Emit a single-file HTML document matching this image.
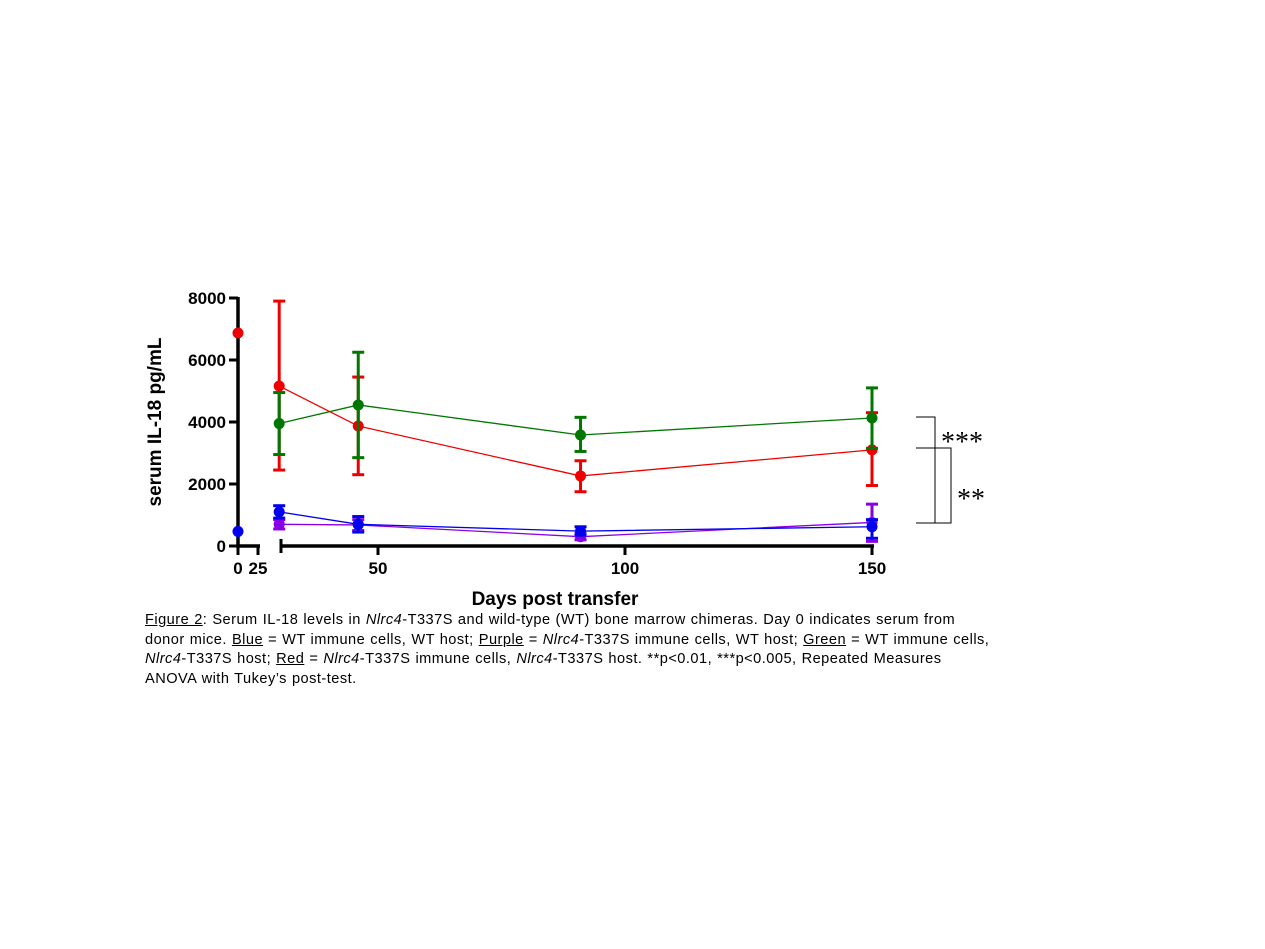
<!DOCTYPE html>
<html><head><meta charset="utf-8"><style>
body{margin:0;background:#fff;width:1265px;height:949px;overflow:hidden;font-family:"Liberation Sans",sans-serif}
#cap{position:absolute;left:145px;top:611px;width:1000px;font-size:14.6px;letter-spacing:0.47px;word-spacing:0.5px;line-height:19.5px;color:#000;white-space:nowrap}
u{text-decoration:underline}
</style></head><body>
<svg id="chart" width="1265" height="610" style="position:absolute;left:0;top:0" font-family="Liberation Sans, sans-serif"></svg>
<div id="cap"><u>Figure 2</u>: Serum IL-18 levels in <i>Nlrc4</i>-T337S and wild-type (WT) bone marrow chimeras. Day 0 indicates serum from<br>donor mice. <u>Blue</u> = WT immune cells, WT host; <u>Purple</u> = <i>Nlrc4</i>-T337S immune cells, WT host; <u>Green</u> = WT immune cells,<br><i>Nlrc4</i>-T337S host; <u>Red</u> = <i>Nlrc4</i>-T337S immune cells, <i>Nlrc4</i>-T337S host. **p&lt;0.01, ***p&lt;0.005, Repeated Measures<br>ANOVA with Tukey’s post-test.</div>
<script>
const days=[30,46,91,150];
const yTicks=[0,2000,4000,6000,8000];
const xTicksRight=[50,100,150];
const day0Red=6870, day0Blue=470;
const redMean=[5160,3870,2260,3100], redHi=[7900,5450,2750,4300], redLo=[2450,2300,1750,1950];
const greenMean=[3950,4550,3580,4130], greenHi=[4950,6250,4150,5100], greenLo=[2950,2850,3050,3150];
const blueMean=[1100,700,480,620], blueHi=[1300,950,620,850], blueLo=[900,450,350,250];
const purpleMean=[700,680,300,760], purpleHi=[850,850,400,1350], purpleLo=[550,500,200,150];
const svg=document.getElementById('chart');const NS='http://www.w3.org/2000/svg';
function y(v){return 546-v/8000*248;}
function x(d){return d<=25?238+d*0.8:378+(d-50)*4.94;}
function mk(t,a,p){const e=document.createElementNS(NS,t);for(const k in a)e.setAttribute(k,a[k]);(p||svg).appendChild(e);return e;}
let e=mk('line',{x1:238,y1:297,x2:238,y2:548,stroke:'#000','stroke-width':3.5});
e=mk('line',{x1:237,y1:546,x2:260,y2:546,stroke:'#000','stroke-width':3.5});
mk('line',{x1:258,y1:546,x2:258,y2:555,stroke:'#000','stroke-width':3});
mk('line',{x1:238,y1:546,x2:238,y2:555,stroke:'#000','stroke-width':3});
e=mk('line',{x1:280,y1:546,x2:874,y2:546,stroke:'#000','stroke-width':3.5});
mk('line',{x1:281,y1:539,x2:281,y2:553,stroke:'#000','stroke-width':3});
yTicks.forEach(v=>{mk('line',{x1:229,y1:y(v),x2:238,y2:y(v),stroke:'#000','stroke-width':3});
 const t=mk('text',{x:226,y:y(v)+6,'text-anchor':'end','font-size':17,'font-weight':'bold'});t.textContent=v;});
[0,25].forEach(d=>{const t=mk('text',{x:x(d),y:574,'text-anchor':'middle','font-size':17,'font-weight':'bold'});t.textContent=d;});
xTicksRight.forEach(d=>{mk('line',{x1:x(d),y1:546,x2:x(d),y2:555,stroke:'#000','stroke-width':3});
 const t=mk('text',{x:x(d),y:574,'text-anchor':'middle','font-size':17,'font-weight':'bold'});t.textContent=d;});
let t=mk('text',{x:555,y:605,'text-anchor':'middle','font-size':19,'font-weight':'bold'});t.textContent='Days post transfer';
t=mk('text',{x:161,y:422,'text-anchor':'middle','font-size':19,'font-weight':'bold',transform:'rotate(-90 161 422)'});t.textContent='serum IL-18 pg/mL';
function series(name,col,m,hi,lo){
 const g=mk('g',{});
 mk('polyline',{points:days.map((d,i)=>x(d)+','+y(m[i])).join(' '),fill:'none',stroke:col,'stroke-width':1.3},g);
 days.forEach((d,i)=>{const X=x(d);
  mk('line',{x1:X,y1:y(hi[i]),x2:X,y2:y(lo[i]),stroke:col,'stroke-width':3},g);
  mk('line',{x1:X-6,y1:y(hi[i]),x2:X+6,y2:y(hi[i]),stroke:col,'stroke-width':3},g);
  mk('line',{x1:X-6,y1:y(lo[i]),x2:X+6,y2:y(lo[i]),stroke:col,'stroke-width':3},g);
  const c=mk('circle',{cx:X,cy:y(m[i]),r:5.5,fill:col},g);});
}
series('purple','#8a00e6',purpleMean,purpleHi,purpleLo);
series('blue','#0000ee',blueMean,blueHi,blueLo);
series('red','#ee0000',redMean,redHi,redLo);
series('green','#007700',greenMean,greenHi,greenLo);
e=mk('circle',{cx:238,cy:y(day0Red),r:5.5,fill:'#ee0000'});
e=mk('circle',{cx:238,cy:y(day0Blue),r:5.5,fill:'#0000ee'});
e=mk('polyline',{points:'916,417 935,417 935,523 916,523',fill:'none',stroke:'#000','stroke-width':1});
e=mk('polyline',{points:'916,448 951,448 951,523 935,523',fill:'none',stroke:'#000','stroke-width':1});
t=mk('text',{x:941,y:451,'font-size':28,'font-family':'Liberation Serif, serif'});t.textContent='***';
t=mk('text',{x:957,y:508,'font-size':28,'font-family':'Liberation Serif, serif'});t.textContent='**';
</script>
</body></html>
